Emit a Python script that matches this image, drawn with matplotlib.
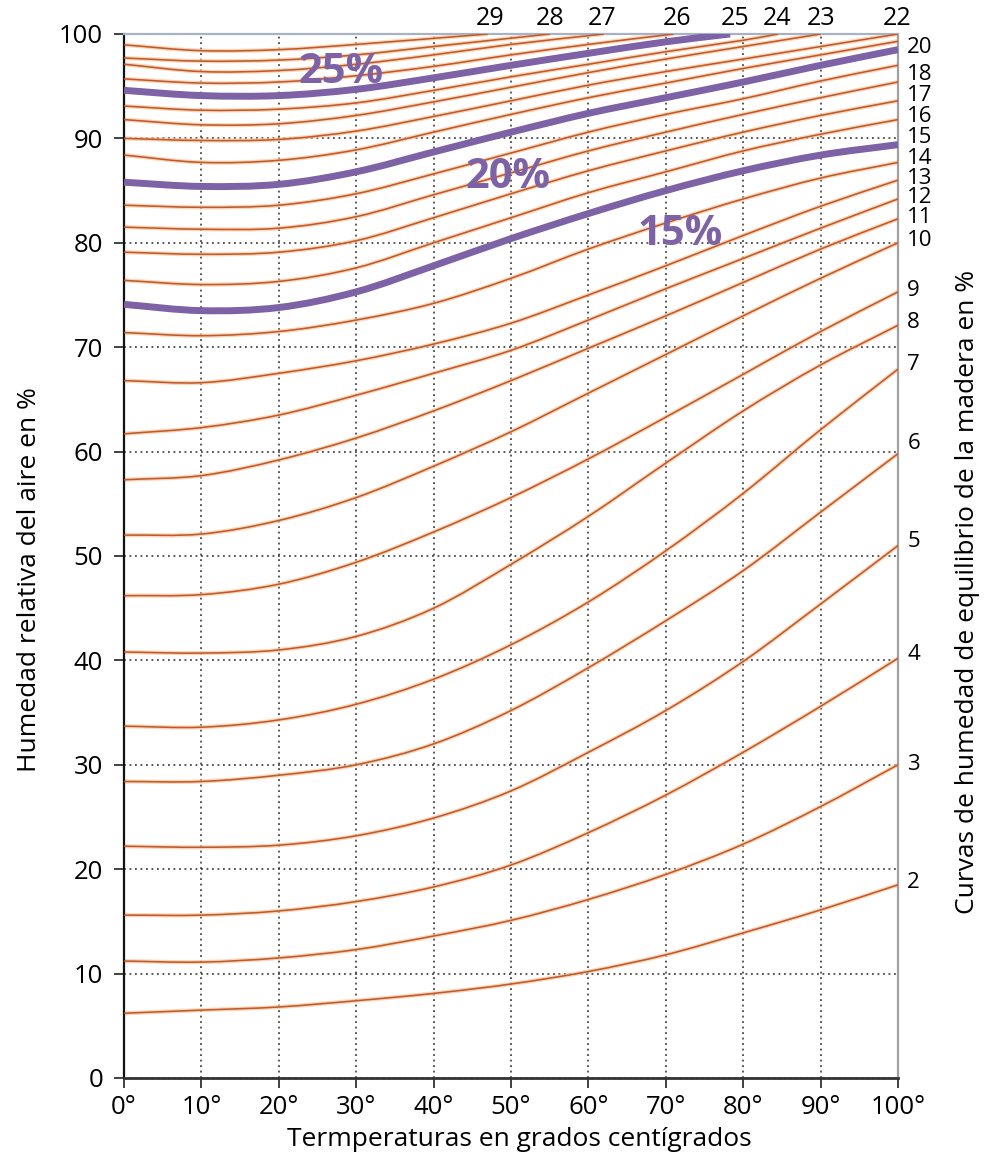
import matplotlib
matplotlib.use("Agg")
import matplotlib.pyplot as plt
from matplotlib.patches import PathPatch
from matplotlib.path import Path

# --- Data (relative air humidity in % per temperature) ---
TEMPS = [0, 10, 20, 30, 40, 50, 60, 70, 80, 90, 100]

emc_2 = [6.2, 6.5, 6.8, 7.4, 8.1, 9.0, 10.2, 11.8, 13.9, 16.1, 18.5]
emc_3 = [11.2, 11.1, 11.5, 12.3, 13.6, 15.1, 17.1, 19.5, 22.4, 26.0, 30.0]
emc_4 = [15.6, 15.6, 16.0, 16.9, 18.3, 20.4, 23.5, 27.1, 31.2, 35.6, 40.2]
emc_5 = [22.2, 22.1, 22.3, 23.2, 24.9, 27.5, 31.2, 35.2, 39.9, 45.4, 51.0]
emc_6 = [28.4, 28.4, 29.0, 30.0, 32.0, 35.2, 39.3, 43.8, 48.6, 54.2, 59.8]
emc_7 = [33.7, 33.6, 34.3, 35.8, 38.2, 41.5, 45.6, 50.5, 56.0, 62.1, 67.9]
emc_8 = [40.8, 40.7, 41.0, 42.3, 45.0, 49.2, 53.8, 58.9, 63.9, 68.3, 72.1]
emc_9 = [46.2, 46.3, 47.3, 49.4, 52.3, 55.6, 59.3, 63.3, 67.4, 71.5, 75.3]
emc_10 = [52.0, 52.1, 53.4, 55.6, 58.6, 61.9, 65.6, 69.3, 73.0, 76.6, 80.0]
emc_11 = [57.3, 57.7, 59.2, 61.3, 63.9, 66.8, 69.9, 73.0, 76.2, 79.4, 82.3]
emc_12 = [61.7, 62.3, 63.5, 65.4, 67.5, 69.7, 72.6, 75.6, 78.5, 81.4, 84.2]
emc_13 = [66.8, 66.6, 67.5, 68.7, 70.3, 72.3, 75.0, 77.8, 80.7, 83.5, 86.0]
emc_14 = [71.4, 71.1, 71.5, 72.6, 74.2, 76.6, 79.4, 81.9, 84.2, 86.2, 87.7]
emc_15 = [74.1, 73.5, 73.8, 75.3, 77.8, 80.4, 82.8, 85.0, 86.9, 88.4, 89.4]
emc_16 = [76.4, 76.0, 76.3, 77.6, 80.0, 82.4, 84.8, 86.8, 88.8, 90.4, 91.8]
emc_17 = [79.1, 78.9, 79.1, 80.2, 82.4, 84.7, 86.9, 88.8, 90.6, 92.2, 93.6]
emc_18 = [81.5, 81.3, 81.4, 82.5, 84.6, 86.7, 88.8, 90.6, 92.3, 93.9, 95.4]
emc_19 = [83.6, 83.4, 83.6, 84.7, 86.6, 88.6, 90.6, 92.3, 93.8, 95.5, 97.0]
emc_20 = [85.8, 85.4, 85.6, 86.8, 88.7, 90.6, 92.4, 93.9, 95.4, 97.0, 98.5]
emc_21 = [88.4, 87.7, 87.9, 88.9, 90.6, 92.3, 93.9, 95.3, 96.7, 98.0, 99.3]
emc_22 = [90.0, 89.8, 89.9, 90.7, 92.1, 93.6, 95.1, 96.4, 97.6, 98.8, 100.0]

# curves leaving through the top edge: temperatures end at the exit point
emc_23_t = [0, 10, 20, 30, 40, 50, 60, 70, 80, 90]
emc_23 = [91.8, 91.3, 91.4, 92.2, 93.5, 94.9, 96.3, 97.6, 98.8, 100.0]
emc_24_t = [0, 10, 20, 30, 40, 50, 60, 70, 80, 84.5]
emc_24 = [93.1, 92.7, 92.8, 93.4, 94.6, 95.9, 97.1, 98.3, 99.4, 100.0]
emc_25_t = [0, 10, 20, 30, 40, 50, 60, 70, 78.3]
emc_25 = [94.6, 94.1, 94.1, 94.7, 95.8, 97.0, 98.15, 99.25, 100.0]
emc_26_t = [0, 10, 20, 30, 40, 50, 60, 71]
emc_26 = [95.7, 95.3, 95.4, 96.0, 96.9, 98.0, 99.0, 100.0]
emc_27_t = [0, 10, 20, 30, 40, 50, 62]
emc_27 = [97.1, 96.4, 96.5, 97.1, 98.0, 99.0, 100.0]
emc_28_t = [0, 10, 20, 30, 40, 55]
emc_28 = [97.7, 97.4, 97.5, 98.0, 98.8, 100.0]
emc_29_t = [0, 10, 20, 30, 47]
emc_29 = [98.96, 98.4, 98.5, 99.0, 100.0]

# curve labels on the right edge and on the top edge
right_labels = ["20", "18", "17", "16", "15", "14", "13", "12", "11", "10", "9", "8", "7", "6", "5", "4", "3", "2"]
right_label_y = [98.7, 96.1, 94.1, 92.1, 90.1, 88.1, 86.2, 84.3, 82.4, 80.2, 75.4, 72.4, 68.3, 60.8, 51.4, 40.6, 30.0, 18.7]
top_labels = ["29", "28", "27", "26", "25", "24", "23", "22"]
top_label_x = [47.3, 55.1, 61.8, 71.4, 79.0, 84.4, 90.0, 99.9]

highlight_labels = ["25%", "20%", "15%"]
highlight_x = [28.0, 49.6, 71.8]
highlight_y = [96.3, 86.3, 80.8]

ORANGE = "#bf5a2c"
HALO = "#f8c59a"
PURPLE = "#7d62a6"

plt.rcParams.update(
    {
        "font.family": ["Open Sans", "DejaVu Sans"],
        "font.size": 18,
        "xtick.labelsize": 18.5,
        "ytick.labelsize": 18.5,
    }
)


def smooth_path(xs, ys):
    """Cubic Hermite path through the read points (slopes from neighbours)."""
    n = len(xs)
    verts = [(xs[0], ys[0])]
    codes = [Path.MOVETO]
    for i in range(n - 1):
        a, b = max(i - 1, 0), min(i + 2, n - 1)
        h = xs[i + 1] - xs[i]
        m1 = (ys[i + 1] - ys[a]) / (xs[i + 1] - xs[a])
        m2 = (ys[b] - ys[i]) / (xs[b] - xs[i])
        verts += [
            (xs[i] + h / 3, ys[i] + m1 * h / 3),
            (xs[i + 1] - h / 3, ys[i + 1] - m2 * h / 3),
            (xs[i + 1], ys[i + 1]),
        ]
        codes += [Path.CURVE4] * 3
    return Path(verts, codes)


def draw_curve(ax, xs, ys, highlight=False):
    path = smooth_path(xs, ys)
    if highlight:
        ax.add_patch(PathPatch(path, facecolor="none", edgecolor=PURPLE, lw=5.0,
                               capstyle="butt", zorder=5))
    else:
        ax.add_patch(PathPatch(path, facecolor="none", edgecolor=HALO, lw=3.0,
                               alpha=0.7, zorder=2))
        ax.add_patch(PathPatch(path, facecolor="none", edgecolor=ORANGE, lw=1.15,
                               zorder=3))


fig = plt.figure(figsize=(9.9, 11.64), dpi=100)
ax = fig.add_axes([0.1253, 0.0739, 0.7818, 0.8969])

full_curves = [
    (2, emc_2), (3, emc_3), (4, emc_4), (5, emc_5), (6, emc_6), (7, emc_7),
    (8, emc_8), (9, emc_9), (10, emc_10), (11, emc_11), (12, emc_12),
    (13, emc_13), (14, emc_14), (15, emc_15), (16, emc_16), (17, emc_17),
    (18, emc_18), (19, emc_19), (20, emc_20), (21, emc_21), (22, emc_22),
]
top_curves = [
    (23, emc_23_t, emc_23), (24, emc_24_t, emc_24), (25, emc_25_t, emc_25),
    (26, emc_26_t, emc_26), (27, emc_27_t, emc_27), (28, emc_28_t, emc_28),
    (29, emc_29_t, emc_29),
]

for m, ys in full_curves:
    draw_curve(ax, TEMPS, ys, highlight=m in (15, 20))
for m, xs, ys in top_curves:
    draw_curve(ax, xs, ys, highlight=m == 25)

for txt, x, y in zip(highlight_labels, highlight_x, highlight_y):
    ax.text(x, y, txt, color=PURPLE, fontsize=30, fontweight="bold",
            ha="center", va="center", zorder=6)

for txt, y in zip(right_labels, right_label_y):
    ax.text(101.2, y, txt, ha="left", va="center", fontsize=16, clip_on=False)
for txt, x in zip(top_labels, top_label_x):
    ax.text(x, 101.5, txt, ha="center", va="center", fontsize=18, clip_on=False)

ax.set_xlim(0, 100)
ax.set_ylim(0, 100)
ax.set_xticks(TEMPS)
ax.set_xticklabels([f"{t}°" for t in TEMPS])
ax.set_yticks(range(0, 101, 10))
ax.grid(True, linestyle=(0, (1.2, 2.4)), color="#2a2a2a", linewidth=1.1, zorder=1)
ax.tick_params(axis="both", direction="out", length=7, width=1.3, color="#333333")
ax.tick_params(axis="y", pad=8)
ax.tick_params(axis="x", pad=5)

ax.spines["left"].set_color("#111111")
ax.spines["left"].set_linewidth(1.6)
ax.spines["bottom"].set_color("#333333")
ax.spines["bottom"].set_linewidth(2.0)
ax.spines["top"].set_color("#a9b2c2")
ax.spines["top"].set_linewidth(1.6)
ax.spines["right"].set_color("#a0a0a0")
ax.spines["right"].set_linewidth(1.6)

fig.text(519 / 990, 1 - 1140 / 1164, "Termperaturas en grados centígrados",
         ha="center", va="center", fontsize=19)
fig.text(30 / 990, 1 - 580 / 1164, "Humedad relativa del aire en %",
         ha="center", va="center", rotation=90, fontsize=19)
fig.text(968 / 990, 1 - 592 / 1164, "Curvas de humedad de equilibrio de la madera en %",
         ha="center", va="center", rotation=90, fontsize=19)

fig.savefig("out.png", dpi=100)
